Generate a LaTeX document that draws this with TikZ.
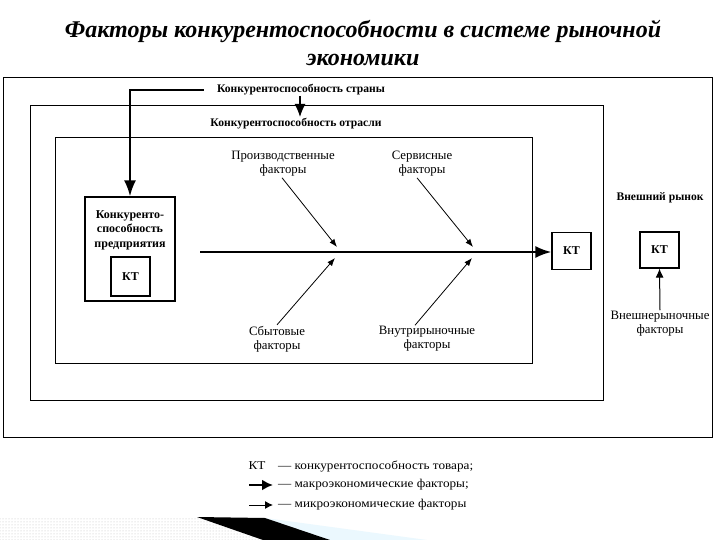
\documentclass[tikz,border=0pt]{standalone}
\usepackage{fontspec}
\setmainfont{Liberation Serif}
\newfontfamily\legfont[FakeStretch=1.1]{Liberation Serif}
\usetikzlibrary{arrows.meta,patterns}
\tikzset{
  title/.style={font=\fontsize{24}{28}\selectfont\bfseries\itshape, inner sep=0pt},
  box/.style={draw=black, line width=1.1pt, inner sep=0pt, minimum width=#1},
  bold/.style={font=\fontsize{11.6}{13}\selectfont\bfseries, inner sep=1pt},
  lbl/.style={font=\fontsize{12.8}{14}\selectfont, align=center, inner sep=1pt},
  leg/.style={font=\legfont\fontsize{12}{13}\selectfont, inner sep=0pt},
  kt/.style={draw=black, line width=1.1pt, inner sep=0pt, font=\fontsize{12}{13}\selectfont\bfseries},
  bigarrow/.style={line width=2.4pt, -{Latex[length=16pt,width=12pt]}},
  medarrow/.style={line width=1.2pt, -{Latex[length=13pt,width=11pt]}},
  thinarrow/.style={line width=0.8pt, -{Latex[length=8pt,width=6pt]}},
}
\begin{document}
\begin{tikzpicture}[x=1pt,y=-1pt]
\useasboundingbox (0,0) rectangle (720,540);
\fill[white] (0,0) rectangle (720,540);

% title
\node[title] (t1) at (363,31) {Факторы конкурентоспособности в системе рыночной};
\node[title] (t2) at (363,60) {экономики};

% frames
\node[box=709pt, minimum height=360pt, line width=0.9pt, anchor=north west] (outer) at (3,77) {};
\node[box=573pt, minimum height=295pt, anchor=north west] (ind) at (30,105) {};
\node[box=477pt, minimum height=226pt, line width=0.9pt, anchor=north west] (firm) at (55,137) {};

% enterprise box
\node[box=90pt, minimum height=104pt] (ent) at (130,249) {};
\node[bold, align=center, font=\fontsize{12}{14.5}\selectfont\bfseries] (enttxt) at (130,230) {Конкуренто-\\способность\\предприятия};
\node[kt, minimum width=39pt, minimum height=39pt] (kt1) at (130.5,276.5) {КТ};

% country / industry
\node[bold, inner xsep=13pt] (country) at (301,90) {Конкурентоспособность страны};
\node[bold] (industry) at (296,124) {Конкурентоспособность отрасли};
\draw[bigarrow] (country.west) -| (ent.north);
\coordinate (cs) at (300,96);
\coordinate (ce) at (300,117);
\draw[medarrow] (cs) -- (ce);

% main line
\coordinate (mstart) at (200,252);
\node[kt, minimum width=39pt, minimum height=37pt] (kt2) at (571.5,251) {КТ};
\draw[bigarrow] (mstart) -- (mstart -| kt2.west);

% fishbone
\coordinate (j1u) at (337,247);
\coordinate (j2u) at (473,247);
\coordinate (j1d) at (335,258);
\coordinate (j2d) at (472,258);
\node[lbl] (prod) at (283,164) {Производственные\\факторы};
\node[lbl] (serv) at (422,164) {Сервисные\\факторы};
\node[lbl] (sbyt) at (277,339) {Сбытовые\\факторы};
\node[lbl] (vnutr) at (427,339) {Внутрирыночные\\факторы};
\draw[thinarrow] ([xshift=-1pt]prod.south) -- (j1u);
\draw[thinarrow] ([xshift=-5pt]serv.south) -- (j2u);
\draw[thinarrow] (sbyt.north) -- (j1d);
\draw[thinarrow] ([xshift=-12pt]vnutr.north) -- (j2d);

% external market
\node[bold] (ext) at (660,198) {Внешний рынок};
\node[kt, minimum width=39pt, minimum height=36pt] (kt3) at (659.5,250) {КТ};
\node[lbl] (vnf) at (660,324) {Внешнерыночные\\факторы};
\draw[line width=1pt, -{Latex[length=9pt,width=8pt]}] (vnf.north) -- (kt3.south);

% legend
\node[leg] (l1a) at (257,466) {КТ};
\node[leg, anchor=west] (l1b) at (278,466) {— конкурентоспособность товара;};
\coordinate (a2s) at (249,485);
\coordinate (a2e) at (273,485);
\draw[line width=2.2pt, -{Latex[length=11pt,width=11pt]}] (a2s) -- (a2e);
\node[leg, anchor=west] (l2) at (278,485) {— макроэкономические факторы;};
\coordinate (a3s) at (249,505);
\coordinate (a3e) at (273,505);
\draw[line width=1pt, -{Latex[length=8pt,width=8pt]}] (a3s) -- (a3e);
\node[leg, anchor=west] (l3) at (278,505) {— микроэкономические факторы};

% bottom decoration
\fill[pattern=dots, pattern color=gray!50] (0,517) -- (197,517) -- (263,540) -- (0,540) -- cycle;
\fill[cyan!8!white] (265,518) -- (427,540) -- (330,540) -- cycle;
\fill[black] (197,517) -- (265,518) -- (330,540) -- (263,540) -- cycle;
\end{tikzpicture}
\end{document}
